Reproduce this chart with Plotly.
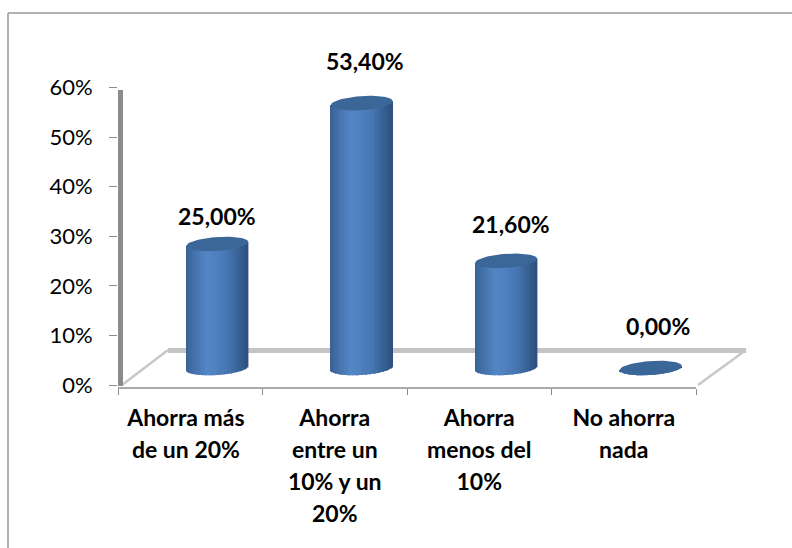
import math
import plotly.graph_objects as go

categories = ["Ahorra más<br>de un 20%", "Ahorra<br>entre un<br>10% y un<br>20%", "Ahorra<br>menos del<br>10%", "No ahorra<br>nada"]
values = [25.0, 53.4, 21.6, 0.0]
value_labels = ["25,00%", "53,40%", "21,60%", "0,00%"]
y_ticks = [0, 10, 20, 30, 40, 50, 60]
y_tick_labels = ["0%", "10%", "20%", "30%", "40%", "50%", "60%"]

# pixel calibration of the plot area
L, R, T, B = 118, 750, 80, 388
PX_X = 144.5      # px per category
PX_Y = 4.96       # px per percent
Y0 = 385          # pixel of 0%
W, H = 792, 548

label_shift = [28, 42, 37, 42]
label_dx = [0.0, 0.02, 0.03, 0.05]
tick_nudge = [-0.03, 0, 0, 0]

dep_x = 27.0 / PX_X
floor = 17.0 / PX_Y
semi_a = 31.0 / PX_X
semi_b = 7.0 / PX_Y
tilt = 2.0 / PX_Y


def xp(px):
    return (px - L) / (R - L)


def yp(py):
    return (B - py) / (B - T)


def shade(t):
    stops = [(-1.0, (56, 98, 150)), (-0.3, (85, 135, 200)), (0.35, (70, 118, 178)), (1.0, (44, 80, 124))]
    for (a, ca), (b, cb) in zip(stops, stops[1:]):
        if a <= t <= b:
            f = (t - a) / (b - a)
            return "rgb(%d,%d,%d)" % tuple(round(u + (v - u) * f) for u, v in zip(ca, cb))
    return "rgb(44,80,124)"


fig = go.Figure()
N = 48
slice_w = 2 * semi_a / N
for k in range(N):
    t = -1 + (k + 0.5) * 2 / N
    curve = semi_b * math.sqrt(1 - t * t)
    fig.add_trace(go.Bar(
        x=[i + dep_x + t * semi_a for i in range(len(values))],
        y=[v + curve for v in values],
        base=[floor + tilt * t - curve for _ in values],
        width=slice_w * 1.25,
        marker=dict(color=shade(t), line=dict(width=0)),
        hoverinfo="skip",
        showlegend=False,
    ))

M = 72
for i, v in enumerate(values):
    xs = [i + dep_x + semi_a * math.cos(2 * math.pi * j / M) for j in range(M + 1)]
    ys = [v + floor + tilt * math.cos(2 * math.pi * j / M) + semi_b * math.sin(2 * math.pi * j / M) for j in range(M + 1)]
    fig.add_trace(go.Scatter(x=xs, y=ys, mode="lines", fill="toself", fillcolor="#3B6698",
                             line=dict(width=0, color="#3B6698"), hoverinfo="skip", showlegend=False))

GREY = "#8C8C8C"
BAND = "#C4C4C4"
shapes = [
    # outer frame: left and top edges only
    dict(type="line", x0=xp(8), x1=xp(8), y0=yp(13), y1=yp(548), line=dict(color="#999999", width=1.5)),
    dict(type="line", x0=xp(8), x1=xp(792), y0=yp(13), y1=yp(13), line=dict(color="#999999", width=1.5)),
    # back wall and floor
    dict(type="line", x0=xp(168), x1=xp(746), y0=yp(350.5), y1=yp(350.5), line=dict(color=BAND, width=5)),
    dict(type="line", x0=xp(122), x1=xp(168), y0=yp(385), y1=yp(350), line=dict(color="#C8C8C8", width=2.5)),
    dict(type="line", x0=xp(698), x1=xp(746), y0=yp(385), y1=yp(350), line=dict(color="#C8C8C8", width=2.5)),
    # side wall
    dict(type="rect", x0=xp(118), x1=xp(123), y0=yp(90), y1=yp(386), fillcolor=GREY, line=dict(width=0)),
    # category axis line
    dict(type="line", x0=xp(118), x1=xp(696), y0=yp(388), y1=yp(388), line=dict(color=GREY, width=1.5)),
]
for s in shapes:
    s.update(xref="paper", yref="paper", layer="below")

annotations = [
    dict(x=i + dep_x + label_dx[i], y=v + floor, text=f"<b>{value_labels[i]}</b>", showarrow=False,
         yshift=label_shift[i], xanchor="center", yanchor="middle",
         font=dict(family="Lato", size=23, color="#000000"))
    for i, v in enumerate(values)
]

fig.update_layout(
    width=W, height=H,
    margin=dict(l=L, r=W - R, t=T, b=H - B, pad=0),
    paper_bgcolor="#FFFFFF", plot_bgcolor="rgba(0,0,0,0)",
    barmode="overlay", showlegend=False,
    shapes=shapes, annotations=annotations,
    xaxis=dict(
        range=[-0.5, -0.5 + (R - L) / PX_X],
        tickmode="array",
        tickvals=[i + n for i, n in enumerate(tick_nudge)],
        ticktext=[f"<b><span style='font-size:23px'>{c}</span></b>" for c in categories],
        tickfont=dict(family="Lato", size=24.6, color="#000000"),
        ticks="", showgrid=False, zeroline=False, showline=False,
        ticklabelstandoff=12,
        minor=dict(tickmode="array", tickvals=[-0.5, 0.5, 1.5, 2.5, 3.5], ticks="outside",
                   ticklen=6, tickwidth=1.2, tickcolor=GREY, showgrid=False),
    ),
    yaxis=dict(
        range=[(Y0 - B) / PX_Y, (Y0 - T) / PX_Y],
        tickmode="array", tickvals=y_ticks, ticktext=y_tick_labels,
        tickfont=dict(family="Lato", size=22, color="#000000"),
        ticks="outside", ticklen=8, tickwidth=1.2, tickcolor=GREY,
        showgrid=False, zeroline=False, showline=False,
        ticklabelstandoff=12,
    ),
)

fig.write_html("out.html", config={"displayModeBar": False},
               post_script="document.body.style.margin='0';document.body.style.overflow='hidden';")
